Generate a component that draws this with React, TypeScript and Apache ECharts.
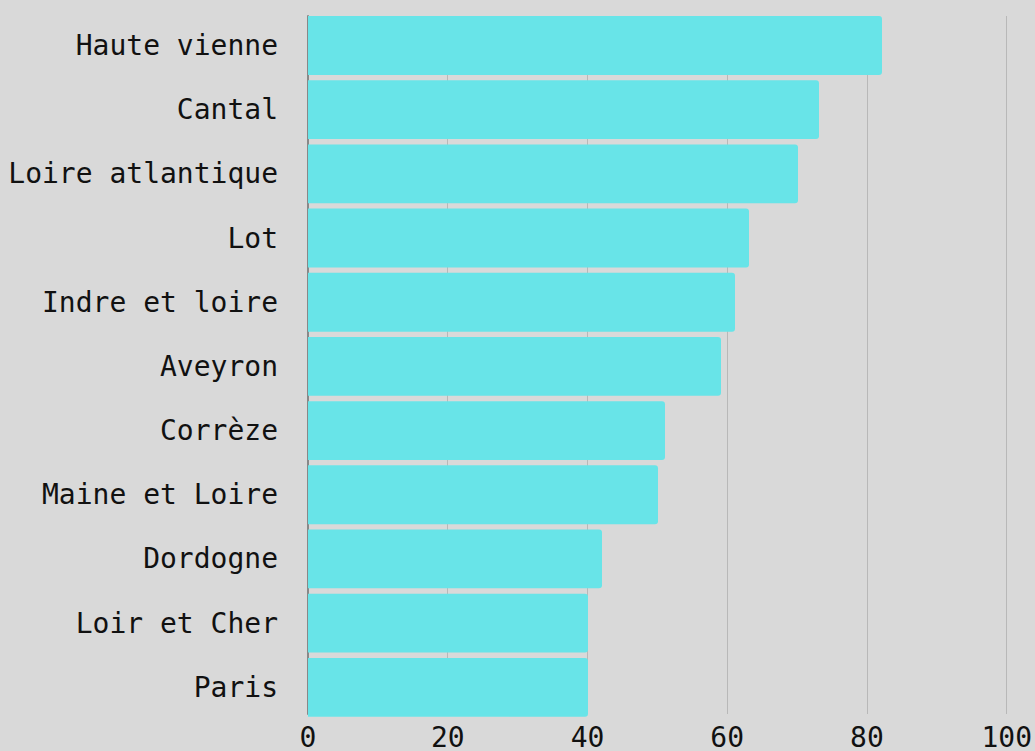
import React, { useEffect, useRef } from "react";
import * as echarts from "echarts";

const categories = [
  "Haute vienne",
  "Cantal",
  "Loire atlantique",
  "Lot",
  "Indre et loire",
  "Aveyron",
  "Corrèze",
  "Maine et Loire",
  "Dordogne",
  "Loir et Cher",
  "Paris",
];
const values = [82, 73, 70, 63, 61, 59, 51, 50, 42, 40, 40];
const xTicks = [0, 20, 40, 60, 80, 100];

export default function App() {
  const ref = useRef<HTMLDivElement>(null);
  useEffect(() => {
    if (!ref.current) return;
    const chart = echarts.init(ref.current, null, { renderer: "svg" });
    const font = "'DejaVu Sans Mono', 'Liberation Mono', monospace";
    const xMin = xTicks[0];
    const xMax = xTicks[xTicks.length - 1];
    chart.setOption({
      animation: false,
      backgroundColor: "#d9d9d9",
      grid: [
        { left: 308, right: 27, top: 13.4, bottom: 31.6, containLabel: false },
        { left: 308, right: 27, top: 16, bottom: 34, containLabel: false },
      ],
      xAxis: [
        {
          type: "value",
          gridIndex: 0,
          min: xMin,
          max: xMax,
          interval: 20,
          axisLine: { show: false },
          axisTick: { show: false },
          splitLine: { show: false },
          axisLabel: { show: false },
        },
        {
          type: "value",
          gridIndex: 1,
          min: xMin,
          max: xMax,
          interval: 20,
          axisLine: { show: false },
          axisTick: { show: false },
          splitLine: { show: true, lineStyle: { color: "#b8b8b8", width: 1 } },
          axisLabel: {
            fontFamily: font,
            fontSize: 28,
            color: "#111",
            margin: 9,
          },
        },
      ],
      yAxis: [
        {
          type: "category",
          gridIndex: 0,
          data: categories,
          inverse: true,
          axisLine: { show: false },
          axisTick: { show: false },
          axisLabel: {
            fontFamily: font,
            fontSize: 28,
            color: "#111",
            margin: 30,
          },
        },
        {
          type: "category",
          gridIndex: 1,
          data: categories,
          inverse: true,
          axisLine: { show: true, lineStyle: { color: "#888", width: 2 } },
          axisTick: { show: false },
          axisLabel: { show: false },
        },
      ],
      series: [
        {
          type: "bar",
          xAxisIndex: 0,
          yAxisIndex: 0,
          data: values,
          barCategoryGap: "8.3%",
          z: 5,
          itemStyle: { color: "#68e4e8", borderRadius: [0, 3, 3, 0] },
        },
      ],
    });
    return () => chart.dispose();
  }, []);
  return <div ref={ref} style={{ width: 1035, height: 751, position: "absolute", left: 0, top: 0 }} />;
}
